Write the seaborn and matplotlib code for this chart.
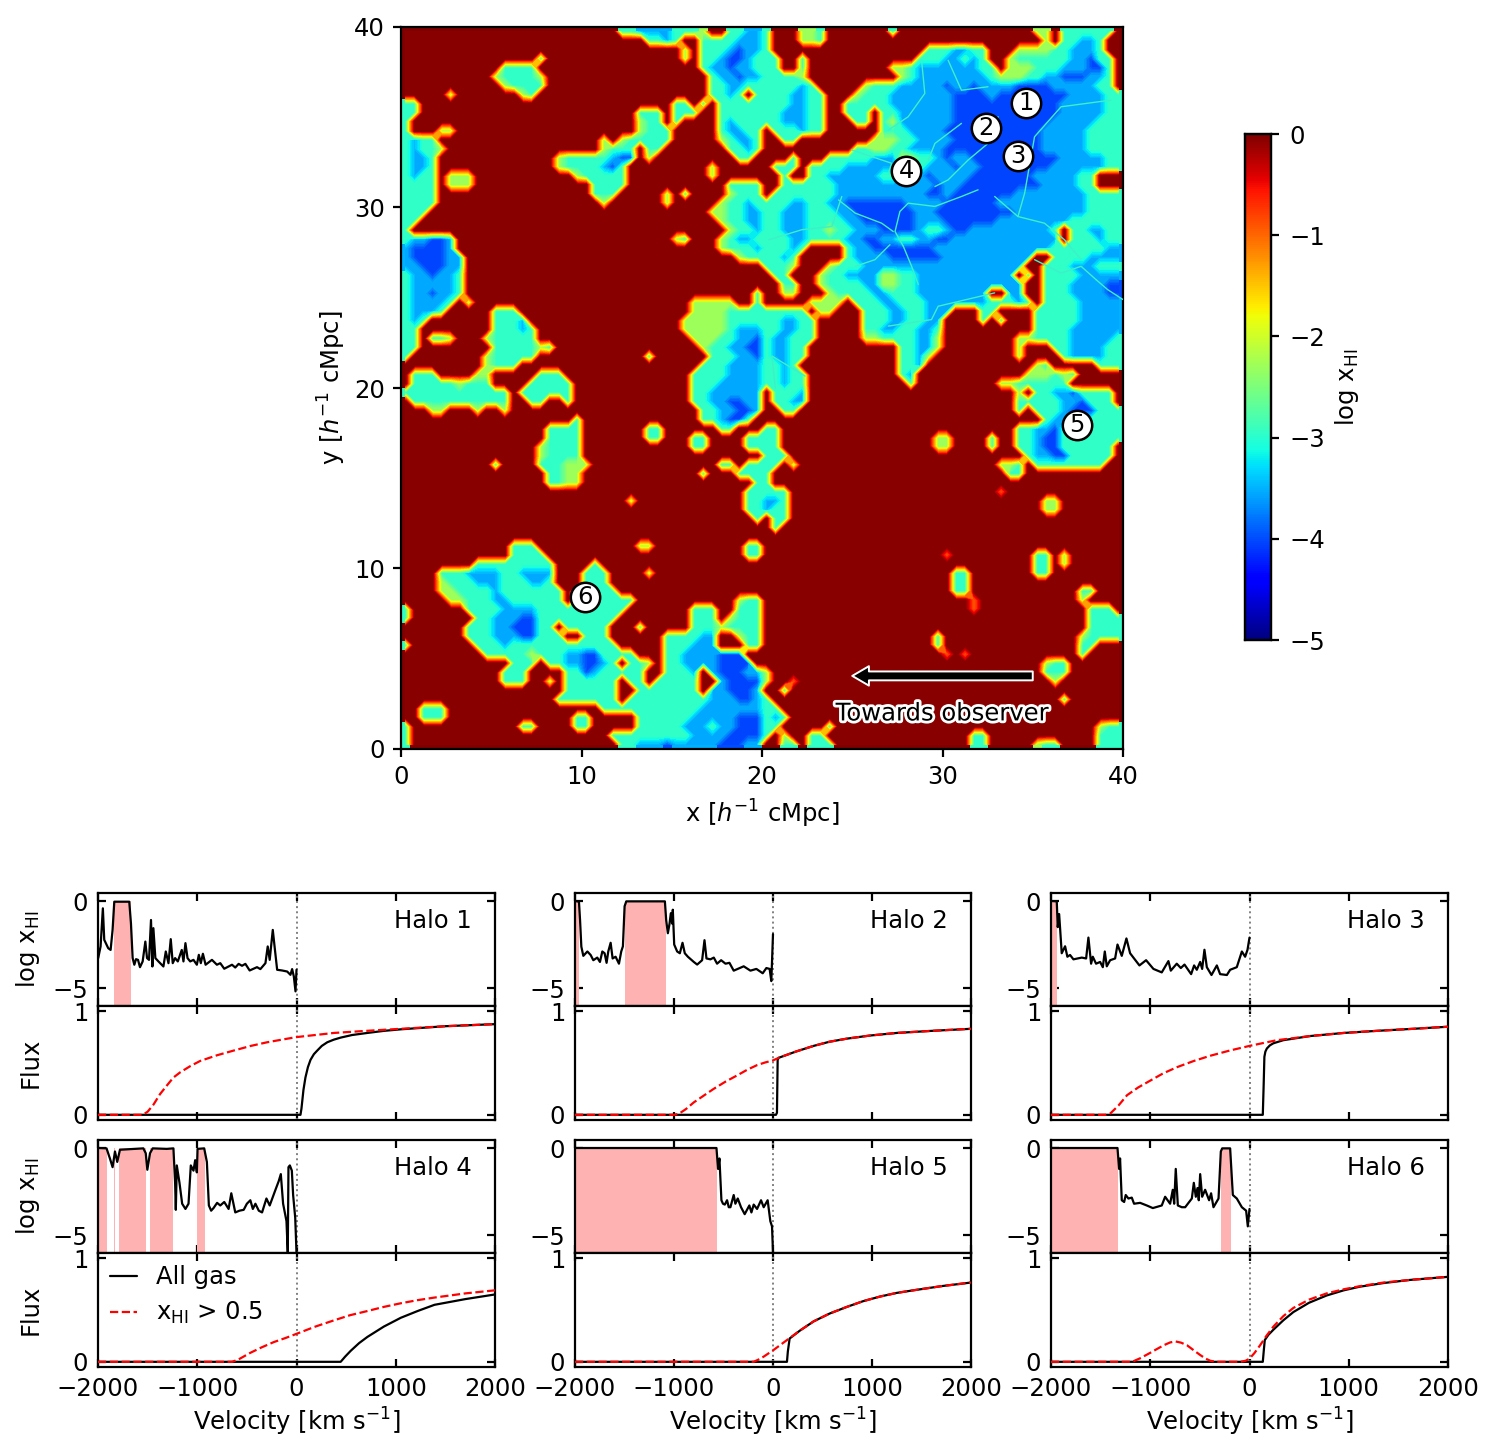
import numpy as np
import pandas as pd
import matplotlib
matplotlib.use("Agg")
import matplotlib.pyplot as plt
import matplotlib.patheffects as pe
import seaborn as sns

# log xHI map, 0.5 cMpc cells, one quadrant per list, top row first.
# . = neutral, 1 = orange/red spot, 2 = green, 3 = cyan, 4 = light blue, 5 = blue
MAP_TL = [
".......... .......... ....334444 3332..3344",
".......... .......... .......334 3..3333444",
".......... .......... .......... .2.3334544",
".......... .....3.... .......... .2.3345543",
".......... .3333..... .......... ...3445443",
".......... 233332.... .......... ....344544",
".......... .23333.... .......... ....334433",
".....2.... ...23..... .......... ....3343.3",
"33........ .......... .......... 33.3.33333",
"33........ .......... ......333. 333..33333",
"3......... .......... ......233. 3....34333",
"3...22.... .......... ......2333 .....34433",
"3433...... .......... ..2.233333 .....23443",
"34332..... .......... ..2333.33. ......3343",
"3443...... .......233 333455.2.. .......33.",
"3443...... .......233 33453..... ....2.....",
"3433.222.. .........2 33333..... ....2.....",
"3333.222.. .......... .3333..... ......3333",
"3333...... .......... .333.....2 .3....2333",
"3333...... .......... ..2......2 .....23343",
"333....... .......... .......... ....223344",
"33........ .......... .......... .....23344",
"3......... .......... .......... ......2334",
"344554.... .......... .......... 23...23443",
"455554.... .......... .......... .....23334",
"4555544... .......... .......... .......233",
"4455544... .......... .......... ..........",
"3445443... .......... .......... ..........",
"3444443... .......... .......... ..........",
"3445443... .......... .......... .........3",
"344443.2.. .......... .......... ..22222..3",
"34443..... 333....... .......... ..22223333",
"343....... 3334...... .......... .222223333",
"33........ 33343..... .......... .222223444",
"33.332...2 33333..... .......... ..22233445",
"33........ 3333323... .......... ...2334455",
"3........2 33333..... .......3.. ....333445",
".........2 333....... .......... ...3334444",
".333....22 .....333.. .......... ..33334444",
".333332333 ....33333. .......... ..33344444",
]
MAP_TR = [
"3...223... ....3..... .......... 22.333333.",
"3...223... .......... .......... .2.33443..",
"3......... ........33 34433...22 22334443..",
"33..3..... .......333 44343..233 333344533.",
"33..3..... ....223444 444433.222 333444553.",
"33332..... .....23444 4444432223 344555443.",
"333343.... .233344444 5445444455 554444433.",
"3334433... 2333444444 4555545555 5555444433",
"3334433..3 3333444444 4555555555 5554444433",
"3344433..3 33.3344444 4555555555 5554444433",
"3344433... 33.3244444 4555555555 5544444333",
".333433... ...3334444 5555555555 5444443333",
"..33...... ..22233444 4555555555 5444443333",
".......... 3322334444 5555555555 5444443333",
"...3...333 3344422334 5445555555 5554444433",
".333.33334 4444433344 4544555555 5544444433",
"..3..33444 4443344454 4445555555 4444433...",
"..33333344 4444444445 4455555555 5444433...",
".333333344 4444444455 4555555544 4444443333",
"3334433445 5555554444 5555554444 4444443333",
"3344433344 5555555445 5555555544 4444443333",
"3344433334 4555555444 5555554444 4444333333",
"3344433233 4445555433 4554444444 443.334433",
"3334433334 4554433445 5444444444 444.333433",
"33343....3 4455555554 4444444444 4433333344",
"3343.....3 4444555555 4444444444 ..33334444",
"3332...233 3444444444 444444444. .333444333",
".33...2334 4442233444 44444444.3 .333344444",
"..33..2333 3442233444 444444444. .333444455",
"..22...233 3344333444 44444..44. .333444455",
".....2222. 3334433344 4444433343 .333344444",
"33333.22.. .333443344 4...33.... 3333344444",
"334433.... .333443344 ....3.3... 3333344444",
"334433.... .334433443 .......... 3333444444",
"344333.... .223333442 ........22 3333444443",
"34433..... .....33442 ........2. ..33444433",
"34433..... .....3342. ........2. ...3444433",
"3343...... .....334.. .......... 23.....333",
"33433..... .....34... .........2 22323.....",
"33433..... ......3... ......2233 3333......",
]
MAP_BL = [
"3333333333 33.333333. .......... ..33444444",
".333333333 33..33..3. .......... ..33445544",
"...22...2. .2........ .......... ...3344554",
".......... .........3 .......... ...334553.",
".......... ......3333 .......33. .....33...",
".......... ......3333 .......33. ..33....33",
".......... .....23333 .......... ..33....33",
".......... .....23333 .......... ..........",
".......... 3....33322 2......... .....33.33",
".......... ......3322 .......... ...3...333",
".......... ......3322 .......... .........3",
".......... .......... .......... ........33",
".......... .......... .....2.... ........33",
".......... .......... .......... ........33",
".......... .......... .......... .........3",
".......... .......... .......... ..........",
".......... .......... .......... ..........",
".......... ..333..... ......22.. ........33",
".......... ..3333.... .......... ........33",
"........33 3333333... .3........ ..........",
"....333444 4334444... 333....2.. ..........",
"....233344 4333443... 333....... ..........",
"....223333 43333333.3 3333...... ..........",
".....22333 44333333.3 333333.... .......233",
"3......333 3444433333 33333..... ..333..333",
"3.......33 4445533333 3333...... ..333.2333",
".......333 4455533.33 333...3... ..33323333",
".......333 44455333.. 333......3 33344..233",
"3.......33 3433333333 3333.....3 33444...33",
".........3 3333233344 553333...3 34444555..",
".......... ..333.3344 5543.332.3 344445555.",
".......... .333....33 5433333..3 334.455544",
".......... .333..2.33 3333.33.33 333..45555",
".......... ........33 3333..3333 333.445554",
".......... .......333 3333.33333 3333444554",
"..333..... .......... ..33333333 3334444444",
"..333..... .........3 3.....3333 3344444555",
"3......... ...33....3 3.....3333 3444344555",
"3......... .......... ...3333333 3344445555",
"3......... .......... ....334445 4444455544",
]
MAP_BR = [
".3334..... .......... ........2. 334453333.",
".3344..... .......... ........33 333445333.",
"..33...... .......... ........3. 3334555333",
".......... .......... .......... .344533333",
"33........ .......... ........33 4453333333",
"33........ .........2 2....3..33 4553333333",
"33........ .........2 2....3..33 455333333.",
"333....... .......... .........3 445533333.",
"33.2...... .......... ......223. 33333333..",
"3......... .......... .......33. ..........",
"3......... .......... .......... ..........",
"333....... .......... ......1... ..........",
"443....... .......... .......... .22.......",
"433....... .......... .......... .22.......",
".33....... .......... .......... ..........",
".3........ .......... .......... ..........",
".......... .......... .......... ..........",
".......... .......... .......... ..........",
".......... .......... 1......... 33.2......",
".......... .......... .......... 33.2......",
".......... .......... .33....... 33........",
".......... .......... .33....... ..........",
".......... .......... .33....... .....33...",
".......... .......... ...1...... .....2....",
".......... .......... ...1...... ......333.",
".......... .......... .......... ......3333",
".......... .......... .......... ......3333",
".......... .........3 .......... .....23333",
".......... .........3 .......... .....33...",
".......... .......... 1.1....... .....3....",
".......... .......... .......... .233......",
"2......... .......... .......... .333......",
"2..1...... .......... .......... ..2.......",
"..3....... .......... .......... ..........",
"3......... .......... .......... ...3......",
"33........ .......... .......... ..........",
"343....... .......... .......... ..........",
"33.....3.. .......... .......... .......233",
"3.2..33... .......... ...33..... .......333",
"..33.333.. .......... ...33..... 233....333",
]
MAP_LEVELS = {".": 0.0, "1": -1.0, "2": -2.3, "3": -2.95, "4": -3.5, "5": -4.0}
MAP_TICKS = [0, 10, 20, 30, 40]
CBAR_TICKS = [0, -1, -2, -3, -4, -5]
HALO_X = [34.6, 32.4, 34.2, 28.0, 37.45, 10.2]
HALO_Y = [35.8, 34.4, 32.85, 32.0, 17.95, 8.4]
HALO_ID = ["1", "2", "3", "4", "5", "6"]

# Brighter filaments in the ionised region, as (x, y) in cMpc
VEIN_1 = [(27.83,27.85),(28.29,26.74),(28.66,25.73)]
VEIN_2 = [(27.83,27.85),(27.37,28.67),(27.64,29.78),(28.10,30.24),(29.58,30.06),(31.05,30.61),(31.97,30.98)]
VEIN_3 = [(27.09,27.94),(26.26,27.11),(25.16,26.74)]
VEIN_4 = [(29.58,31.16),(30.31,31.53),(31.42,32.63),(32.52,33.55),(33.08,35.03)]
VEIN_5 = [(29.21,32.63),(29.58,33.55),(31.05,34.66)]
VEIN_6 = [(32.89,30.61),(34.18,29.50),(35.65,29.13),(36.76,28.21),(37.68,27.11)]
VEIN_7 = [(34.18,29.50),(34.55,30.79),(35.10,33.92),(36.57,35.58),(39.34,35.95)]
VEIN_8 = [(24.42,30.61),(23.87,28.95),(22.21,28.77),(20.37,28.21)]
VEIN_9 = [(24.24,30.42),(25.16,29.69),(26.63,29.13),(27.27,28.67)]
VEIN_10 = [(38.51,26.0),(39.15,25.45),(40,24.9)]
VEIN_11 = [(38.51,26),(37.68,26.74),(36.57,26.37),(35.10,27.11)]
VEIN_12 = [(24.97,33.19),(27.18,32.45),(27,31.9)]
VEIN_13 = [(28.84,38.16),(29.02,36.32),(28.10,35.03),(27,34.29)]
VEIN_14 = [(30.31,38.16),(31.05,36.5),(32.52,36.69)]
VEIN_15 = [(27,23.43),(29.39,23.79),(29.76,24.53),(32.89,25.27)]
VEIN_16 = [(20.55,21.77),(22.39,20.66)]
VEIN_17 = [(20.55,21.77),(20.74,20)]
VEINS = [VEIN_1, VEIN_2, VEIN_3, VEIN_4, VEIN_5, VEIN_6, VEIN_7, VEIN_8, VEIN_9,
         VEIN_10, VEIN_11, VEIN_12, VEIN_13, VEIN_14, VEIN_15, VEIN_16, VEIN_17]

# Line of sight neutral fraction: velocity and log xHI per halo
H1_V = [-1998,-1974,-1951,-1937,-1897,-1873,-1853,-1836,-1685,-1668,-1651,-1634,-1617,-1597,-1577,-1550,-1523,-1506,-1486,-1466,-1452,-1442,-1422,-1391,-1341,-1317,-1290,-1267,-1247,-1223,-1196,-1156,-1139,-1119,-1098,-1071,-1038,-1004,-984,-964,-943,-916,-852,-802,-768,-728,-684,-650,-617,-583,-549,-515,-472,-398,-364,-313,-290,-270,-239,-219,-195,-145,-94,-61,-44,-27,-10,0]
H1_X = [-3.28,-2.61,-0.42,-2.23,-2.71,-2.81,-1.66,-0.04,-0.04,-1.28,-3.28,-3.66,-3.34,-3.38,-3.80,-3.47,-2.33,-3.28,-3.38,-1.09,-3.76,-1.56,-3.28,-3.47,-3.76,-2.90,-3.57,-2.19,-3.57,-3.28,-3.47,-2.81,-3.47,-2.42,-3.28,-3.47,-3.38,-3.66,-3.09,-3.57,-3.03,-3.66,-3.38,-3.66,-3.57,-3.89,-3.76,-3.66,-3.82,-3.61,-3.72,-3.61,-3.99,-3.80,-3.91,-3.57,-2.61,-3.38,-1.66,-2.71,-3.95,-3.99,-4.05,-4.24,-3.91,-4.33,-5.19,-3.95]
H2_V = [-2000,-1960,-1949,-1936,-1916,-1875,-1842,-1815,-1775,-1748,-1724,-1701,-1681,-1664,-1640,-1620,-1590,-1556,-1533,-1516,-1499,-1482,-1092,-1079,-1062,-1045,-1032,-1018,-1012,-998,-968,-941,-914,-891,-860,-800,-766,-716,-692,-672,-632,-598,-565,-524,-480,-440,-397,-336,-296,-228,-168,-104,-67,-34,-17,0]
H2_X = [0,-0.04,-1.09,-2.62,-3.15,-2.9,-3.1,-3.4,-3.25,-3.5,-2.9,-3.0,-3.55,-2.9,-2.4,-3.3,-3.2,-3.6,-2.9,-2.6,-0.3,-0.02,-0.02,-1.1,-1.85,-1.3,-0.7,-1.3,-0.5,-2.5,-2.9,-3.0,-2.4,-3.0,-3.2,-3.5,-3.65,-3.4,-2.25,-3.3,-3.35,-3.25,-3.6,-3.4,-3.6,-3.55,-4.0,-3.85,-3.75,-4.0,-3.9,-4.15,-3.85,-3.9,-4.6,-1.9]
H3_V = [-2000,-1942,-1932,-1918,-1908,-1892,-1858,-1835,-1808,-1774,-1690,-1646,-1623,-1596,-1579,-1546,-1505,-1478,-1458,-1438,-1404,-1354,-1330,-1287,-1240,-1203,-1163,-1109,-1042,-968,-884,-817,-793,-733,-692,-655,-588,-558,-531,-497,-477,-454,-430,-383,-329,-296,-228,-195,-128,-77,-44,-20,0]
H3_X = [0,-0.02,-1.5,-0.75,-1.6,-3.0,-2.6,-3.2,-3.1,-3.35,-3.25,-3.3,-2.1,-3.6,-3.2,-3.6,-3.5,-3.8,-2.9,-3.75,-3.4,-3.3,-2.5,-3.15,-2.15,-3.0,-3.3,-3.7,-3.4,-3.9,-4.1,-3.45,-4.0,-3.6,-3.85,-3.65,-4.2,-3.7,-3.95,-3.5,-3.9,-2.8,-3.8,-4.25,-3.7,-4.2,-4.25,-3.95,-3.8,-2.9,-3.2,-2.8,-2.1]
H4_V = [-1998,-1914,-1880,-1853,-1829,-1806,-1779,-1543,-1519,-1503,-1476,-1449,-1307,-1240,-1223,-1216,-1206,-1179,-1152,-1119,-1088,-1065,-1038,-1021,-1004,-997,-930,-903,-883,-860,-836,-800,-768,-728,-684,-657,-617,-575,-532,-500,-465,-440,-414,-380,-347,-303,-270,-212,-179,-158,-135,-101,-88,-81,-67,-47,-34,-13,0]
H4_X = [0,-0.02,-0.6,-1.1,-0.2,-0.8,-0.1,-0.02,-0.3,-1.25,-0.3,-0.02,-0.05,-0.02,-2.0,-3.55,-1.0,-2.0,-3.2,-3.5,-3.2,-1.0,-1.3,-0.7,-1.4,-0.05,-0.02,-0.8,-3.3,-3.6,-3.45,-3.15,-3.3,-3.1,-3.5,-2.6,-3.7,-3.6,-3.55,-3.2,-3.0,-3.5,-3.2,-3.6,-3.7,-2.9,-3.3,-2.4,-1.9,-1.5,-3.2,-4.2,-6.0,-1.1,-1.0,-1.3,-2.7,-4.0,-6.0]
H5_V = [-2000,-571,-555,-541,-521,-505,-487,-464,-447,-430,-397,-380,-356,-323,-286,-239,-218,-195,-161,-121,-94,-54,-27,-10,0]
H5_X = [0,0,-1.2,-0.6,-3.0,-3.2,-3.25,-3.0,-3.4,-3.4,-2.7,-3.2,-2.9,-3.4,-3.8,-3.3,-3.7,-3.25,-3.5,-3.0,-3.4,-3.0,-4.2,-4.5,-6.0]
H6_V = [-2000,-1330,-1314,-1304,-1287,-1263,-1247,-1220,-1186,-1163,-1102,-1035,-974,-884,-850,-800,-773,-759,-743,-722,-682,-648,-581,-561,-541,-524,-511,-497,-477,-447,-407,-387,-363,-312,-289,-275,-195,-168,-128,-77,-34,-17,0]
H6_X = [0,0,-1.2,-0.6,-3.0,-3.1,-2.7,-2.9,-2.85,-3.2,-3.15,-3.3,-3.45,-3.3,-2.8,-3.2,-2.4,-3.2,-1.2,-3.3,-3.4,-3.4,-2.9,-2.0,-2.8,-2.3,-3.0,-1.5,-2.8,-2.4,-3.0,-2.6,-3.4,-2.9,-0.2,-0.02,-0.02,-2.7,-2.9,-3.4,-3.6,-4.5,-3.5]

# Velocity ranges with xHI > 0.5
H1_SPANS = [(-1840, -1671)]
H2_SPANS = [(-2000, -1956), (-1499, -1082)]
H3_SPANS = [(-2000, -1939)]
H4_SPANS = [(-2000, -1905), (-1836, -1829), (-1789, -1520), (-1476, -1240), (-1004, -923)]
H5_SPANS = [(-2000, -565)]
H6_SPANS = [(-2000, -1324), (-289, -185)]

# Flux curves: all gas, then xHI > 0.5 only
F1_V = [-2000,40,50,70,90,115,141,175,209,255,310,375,445,560,714,880,1051,1500,2000]
F1_A = [0,0,0.06,0.24,0.36,0.46,0.53,0.585,0.62,0.665,0.70,0.725,0.745,0.77,0.79,0.81,0.825,0.855,0.875]
G1_V = [-2000,-1550,-1500,-1440,-1375,-1300,-1240,-1172,-1070,-970,-800,-633,-460,-296,-150,0,377,700,1051,1500,2000]
G1_F = [0,0,0.03,0.10,0.2,0.29,0.36,0.41,0.47,0.52,0.575,0.62,0.665,0.70,0.725,0.75,0.79,0.81,0.83,0.855,0.875]
F2_V = [-2000,30,40,47,57,230,410,570,746,980,1250,1600,2000]
F2_A = [0,0,0.02,0.53,0.55,0.61,0.665,0.705,0.735,0.765,0.79,0.81,0.83]
G2_V = [-2000,-1000,-950,-880,-800,-700,-600,-480,-363,-260,-160,-80,0,57,230,410,570,746,980,1250,1600,2000]
G2_F = [0,0,0.01,0.055,0.12,0.185,0.25,0.32,0.38,0.435,0.48,0.505,0.525,0.55,0.61,0.665,0.705,0.735,0.765,0.79,0.81,0.83]
F3_V = [-2000,134,143,150,160,175,205,240,340,610,950,1280,1650,2000]
F3_A = [0,0,0.3,0.56,0.61,0.64,0.67,0.69,0.72,0.76,0.79,0.81,0.83,0.85]
G3_V = [-2000,-1450,-1400,-1320,-1233,-1120,-1000,-870,-730,-560,-395,-200,0,275,610,950,1280,1650,2000]
G3_F = [0,0,0.015,0.09,0.19,0.265,0.33,0.40,0.46,0.52,0.57,0.62,0.665,0.72,0.76,0.79,0.81,0.83,0.85]
F4_V = [-2000,445,490,546,630,714,880,1051,1220,1390,1700,2000]
F4_A = [0,0,0.05,0.106,0.18,0.24,0.34,0.425,0.49,0.55,0.605,0.65]
G4_V = [-2000,-650,-590,-465,-350,-230,-110,0,190,377,540,714,880,1051,1220,1390,1700,2000]
G4_F = [0,0,0.02,0.087,0.14,0.19,0.23,0.27,0.34,0.40,0.45,0.49,0.53,0.565,0.595,0.62,0.66,0.69]
F5_V = [-2000,141,150,168,270,410,570,746,910,1082,1250,1418,1700,2000]
F5_A = [0,0,0.1,0.225,0.30,0.39,0.465,0.53,0.585,0.63,0.665,0.69,0.73,0.765]
G5_V = [-2000,-195,-150,-94,-40,0,70,141,270,410,570,746,910,1082,1250,1418,1700,2000]
G5_F = [0,0,0.02,0.05,0.085,0.11,0.16,0.21,0.30,0.39,0.465,0.53,0.585,0.63,0.665,0.69,0.73,0.765]
F6_V = [-2000,134,145,154,190,241,340,442,600,777,950,1112,1350,1615,2000]
F6_A = [0,0,0.12,0.21,0.26,0.31,0.40,0.48,0.57,0.64,0.69,0.725,0.76,0.79,0.82]
G6_V = [-2000,-1183,-1100,-1000,-930,-864,-800,-747,-690,-630,-560,-496,-440,-395,-330,-94,-40,0,50,107,170,241,340,442,600,777,950,1112,1350,1615,2000]
G6_F = [0,0,0.035,0.087,0.125,0.16,0.187,0.197,0.185,0.16,0.11,0.065,0.03,0.01,0,0,0.01,0.03,0.085,0.16,0.25,0.34,0.44,0.52,0.60,0.66,0.70,0.73,0.765,0.79,0.82]

HALOS = [
    ("Halo 1", H1_V, H1_X, H1_SPANS, F1_V, F1_A, G1_V, G1_F),
    ("Halo 2", H2_V, H2_X, H2_SPANS, F2_V, F2_A, G2_V, G2_F),
    ("Halo 3", H3_V, H3_X, H3_SPANS, F3_V, F3_A, G3_V, G3_F),
    ("Halo 4", H4_V, H4_X, H4_SPANS, F4_V, F4_A, G4_V, G4_F),
    ("Halo 5", H5_V, H5_X, H5_SPANS, F5_V, F5_A, G5_V, G5_F),
    ("Halo 6", H6_V, H6_X, H6_SPANS, F6_V, F6_A, G6_V, G6_F),
]

FS = 8.75
sns.set_style("ticks")
plt.rcParams.update({"font.family": ["DejaVu Sans"], "font.size": FS, "axes.linewidth": 0.8,
                     "axes.labelsize": FS, "xtick.labelsize": FS, "ytick.labelsize": FS,
                     "xtick.major.width": 0.8, "ytick.major.width": 0.8,
                     "xtick.major.size": 3, "ytick.major.size": 3,
                     "text.color": "black", "axes.labelcolor": "black",
                     "xtick.color": "black", "ytick.color": "black",
                     "axes.edgecolor": "black", "mathtext.default": "regular"})

W, H = 1496, 1455
fig = plt.figure(figsize=(W / 200, H / 200), dpi=200)


def px_axes(left, top, right, bottom):
    return fig.add_axes([left / W, 1 - bottom / H, (right - left) / W, (bottom - top) / H])


def parse(rows):
    return [[MAP_LEVELS[c] for c in r.replace(" ", "").ljust(40, ".")[:40]] for r in rows]


grid = np.block([[np.array(parse(MAP_TL)), np.array(parse(MAP_TR))],
                 [np.array(parse(MAP_BL)), np.array(parse(MAP_BR))]])

ax = px_axes(401, 27, 1123, 749)
cax = px_axes(1245, 134, 1271, 640)
cell = len(grid) / MAP_TICKS[-1]
sns.heatmap(pd.DataFrame(grid), ax=ax, cmap="jet", vmin=-5, vmax=0, cbar_ax=cax,
            xticklabels=False, yticklabels=False, rasterized=True,
            cbar_kws={"ticks": CBAR_TICKS})
centres = np.arange(len(grid)) + 0.5
ax.contourf(centres, centres, grid, levels=np.linspace(-5, 0.001, 61), cmap="jet", vmin=-5, vmax=0)
for vein in VEINS:
    vx_, vy_ = zip(*vein)
    ax.plot([v * cell for v in vx_], [(MAP_TICKS[-1] - v) * cell for v in vy_],
            color="#3df0c8", lw=0.5, zorder=3, solid_joinstyle="round")
ax.set_xlim(0, len(grid))
ax.set_ylim(len(grid), 0)
ax.set_aspect("auto")
for s in ax.spines.values():
    s.set_visible(True)
    s.set_linewidth(0.8)
ax.set_xticks([t * cell for t in MAP_TICKS], [str(t) for t in MAP_TICKS])
ax.set_yticks([(MAP_TICKS[-1] - t) * cell for t in MAP_TICKS], [str(t) for t in MAP_TICKS], rotation=0)
ax.tick_params(direction="out", length=3, width=0.8, bottom=True, left=True, pad=2.8)
ax.set_xlabel("x [$\\mathit{h}^{-1}$ cMpc]", labelpad=3)
ax.set_ylabel("y [$\\mathit{h}^{-1}$ cMpc]", labelpad=2)

for hx, hy, name in zip(HALO_X, HALO_Y, HALO_ID):
    ax.scatter([hx * cell], [(MAP_TICKS[-1] - hy) * cell], s=112, c="white", edgecolors="black",
               linewidths=0.9, zorder=5)
    ax.text(hx * cell, (MAP_TICKS[-1] - hy) * cell, name, ha="center", va="center", zorder=6,
            color="black", fontsize=FS)

ax.annotate("", xy=(25.0 * cell, (40 - 4.05) * cell), xytext=(35.0 * cell, (40 - 4.05) * cell),
            arrowprops=dict(facecolor="black", edgecolor="white", linewidth=0.7,
                            width=3.2, headwidth=7, headlength=6, shrink=0), zorder=7)
ax.text(30 * cell, (40 - 1.97) * cell, "Towards observer", ha="center", va="center", color="black",
        fontsize=FS, zorder=7, path_effects=[pe.withStroke(linewidth=2.0, foreground="white")])

cax.tick_params(direction="out", length=3, width=0.8, right=True, left=False)
cax.yaxis.set_ticks_position("right")
for s in cax.spines.values():
    s.set_visible(True)
    s.set_linewidth(0.8)
cax.set_ylabel("log x$_{HI}$", labelpad=3)
cax.yaxis.set_label_position("right")

XLEFTS = [(98, 495), (575, 971), (1051, 1448)]
YROWS = [(893, 1006, 1120), (1140, 1253, 1367)]
VTICKS = [-2000, -1000, 0, 1000, 2000]

for i, (name, vx, lx, spans, fv, fa, gv, gf) in enumerate(HALOS):
    col, row = i % 3, i // 3
    left, right = XLEFTS[col]
    top, mid, bot = YROWS[row]
    a1 = px_axes(left, top, right, mid)
    a2 = px_axes(left, mid, right, bot)
    for lo, hi in spans:
        a1.fill_between([lo, hi], [-6.05, -6.05], [0, 0], color="#ffb2b2", lw=0, zorder=1)
    sns.lineplot(x=vx, y=lx, ax=a1, color="black", lw=0.8, estimator=None, sort=False, zorder=3)
    sns.lineplot(x=fv, y=fa, ax=a2, color="black", lw=0.8, estimator=None, sort=False,
                 label="All gas", zorder=3)
    sns.lineplot(x=gv, y=gf, ax=a2, color="red", lw=0.8, linestyle="--", estimator=None, sort=False,
                 label="x$_{HI}$ > 0.5", zorder=4)
    for a in (a1, a2):
        a.axvline(0, color="gray", lw=0.7, ls=":", zorder=2)
        a.set_xlim(-2000, 2000)
        a.set_xticks(VTICKS)
        a.tick_params(direction="in", top=True, right=True, length=3)
    a1.set_ylim(-6.03, 0.46)
    a1.set_yticks([0, -5])
    a2.set_ylim(-0.05, 1.05)
    a2.set_yticks([0, 1])
    a1.set_xticklabels([])
    a1.text(0.942, 0.755, name, transform=a1.transAxes, ha="right", va="center", color="black")
    if row == 1:
        a2.set_xlabel("Velocity [km s$^{-1}$]", labelpad=2)
    else:
        a2.set_xticklabels([])
    if col == 0:
        a1.set_ylabel("log x$_{HI}$")
        a2.set_ylabel("Flux")
        a1.yaxis.set_label_coords(-0.14, 0.5)
        a2.yaxis.set_label_coords(-0.14, 0.5)
    if i == 3:
        a2.legend(loc="upper left", frameon=False, fontsize=FS, handlelength=1.1, handletextpad=0.78,
                  borderaxespad=0.1, labelspacing=0.45)
    else:
        a2.get_legend().remove()

fig.savefig("out.png", dpi=200)
